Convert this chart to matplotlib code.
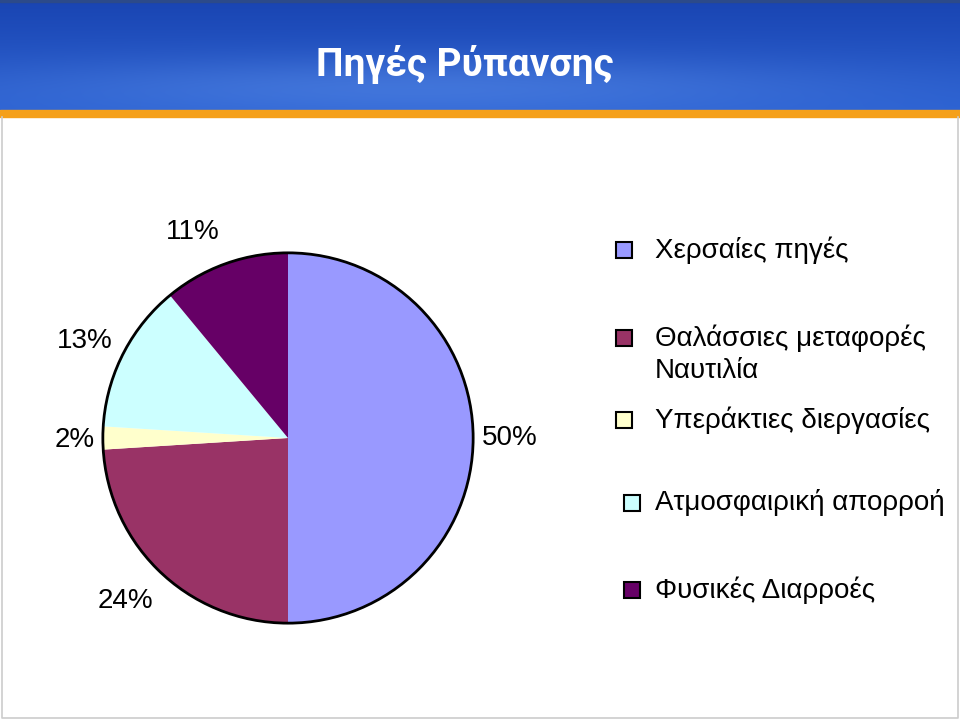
import numpy as np
import matplotlib.pyplot as plt
from matplotlib.patches import Rectangle, Circle

plt.rcParams['font.family'] = ['Liberation Sans', 'DejaVu Sans']

title = "Πηγές Ρύπανσης"
categories = ["Χερσαίες πηγές", "Θαλάσσιες μεταφορές\nΝαυτιλία",
              "Υπεράκτιες διεργασίες", "Ατμοσφαιρική απορροή",
              "Φυσικές Διαρροές"]
shares = [50, 24, 2, 13, 11]
colors = ["#9999FF", "#993366", "#FFFFCC", "#CCFFFF", "#660066"]

W, H = 960, 720
fig = plt.figure(figsize=(W / 100, H / 100), dpi=100)

# page background in pixel coordinates
bg = fig.add_axes([0, 0, 1, 1])
bg.set_xlim(0, W)
bg.set_ylim(H, 0)
bg.axis('off')

# blue banner with a soft gradient
yy, xx = np.mgrid[0:110, 0:960]
t = yy / 110.0
glow = np.exp(-((xx - 420) / 420.0) ** 2) * np.exp(-((yy - 85) / 30.0) ** 2)
top = np.array([0.10, 0.27, 0.70])
bot = np.array([0.17, 0.38, 0.82])
img = top[None, None, :] * (1 - t[..., None]) + bot[None, None, :] * t[..., None]
img = img + 0.10 * glow[..., None] * np.array([1.0, 1.0, 0.6])
img = np.clip(img, 0, 1)
bg.imshow(img, extent=(0, 960, 110, 0), aspect='auto', zorder=1)
bg.add_patch(Rectangle((0, 0), 960, 2, color="#2C4A8A", zorder=2))
bg.add_patch(Rectangle((0, 110), 960, 7, color="#F5A01A", zorder=2))
bg.text(465, 64, title, color="white", fontsize=28, fontweight='bold',
        ha='center', va='center', family=['Roboto', 'DejaVu Sans'], zorder=3)
bg.set_xlim(0, W)
bg.set_ylim(H, 0)

# page frame
bg.plot([2, 2, 958, 958], [117, 718, 718, 117], color="#CCCCCC", lw=1.2)

# pie
cx, cy, r = 288, 438, 187
ax = fig.add_axes([(cx - r) / W, (H - cy - r) / H, 2 * r / W, 2 * r / H])
wedges, _ = ax.pie(shares, colors=colors, startangle=90, counterclock=False,
                   radius=1, wedgeprops=dict(linewidth=0))
ax.add_patch(Circle((0, 0), 1, fill=False, ec='black', lw=2))
ax.set_xlim(-1.01, 1.01)
ax.set_ylim(-1.01, 1.01)
ax.set_aspect('equal')
ax.axis('off')

# percentage labels
label_pos = [(510, 438), (125, 601), (75, 440), (85, 341), (193, 232)]
for (lx, ly), v in zip(label_pos, shares):
    bg.text(lx, ly, f"{v}%", fontsize=20, ha='center', va='center', color='black')

# legend
legend_y = [250, 338, 420, 503, 590]
legend_sq_x = [616, 616, 616, 624, 624]
for y, sx, lab, c in zip(legend_y, legend_sq_x, categories, colors):
    bg.add_patch(Rectangle((sx, y - 8), 16, 16, facecolor=c, edgecolor='black', lw=1.5, zorder=3))
    bg.text(655, y - 14, lab, fontsize=20, ha='left', va='top', color='black',
            linespacing=1.33)

fig.savefig("out.png", dpi=100)
